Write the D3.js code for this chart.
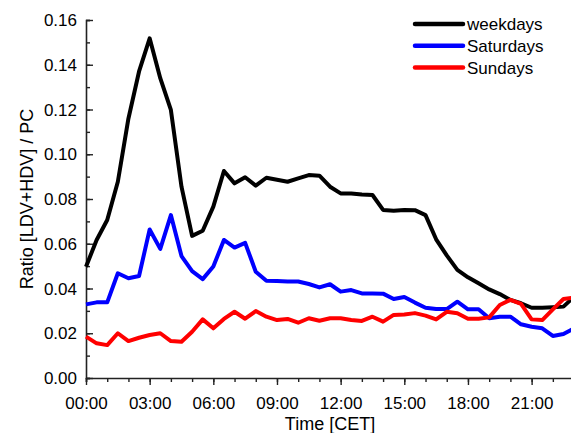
<!DOCTYPE html>
<html>
<head>
<meta charset="utf-8">
<script src="https://cdn.jsdelivr.net/npm/d3@7"></script>
<style>
  body { margin: 0; background: #fff; }
  svg { display: block; font-family: "Liberation Sans", Arial, sans-serif; }
</style>
</head>
<body>
<div id="chart"></div>
<script>
// half-hourly profile, hours after midnight
const hours = [0, 0.5, 1, 1.5, 2, 2.5, 3, 3.5, 4, 4.5, 5, 5.5, 6, 6.5, 7, 7.5,
  8, 8.5, 9, 9.5, 10, 10.5, 11, 11.5, 12, 12.5, 13, 13.5, 14, 14.5, 15, 15.5,
  16, 16.5, 17, 17.5, 18, 18.5, 19, 19.5, 20, 20.5, 21, 21.5, 22, 22.5, 23];

const weekdays = [0.0497, 0.0617, 0.0706, 0.0877, 0.116, 0.137, 0.1518, 0.134,
  0.1198, 0.0855, 0.0635, 0.0658, 0.0766, 0.0925, 0.087, 0.0897,
  0.086, 0.0895, 0.0886, 0.0877, 0.0892, 0.0907, 0.0904, 0.0855,
  0.0825, 0.0825, 0.082, 0.0818, 0.0751, 0.0748, 0.0751, 0.075,
  0.0728, 0.062, 0.0548, 0.0483, 0.045, 0.0423, 0.0396, 0.0375,
  0.0349, 0.0334, 0.0314, 0.0314, 0.0316, 0.0319, 0.0363];

const saturdays = [0.0329, 0.0338, 0.0338, 0.0468, 0.0446, 0.0456, 0.0664, 0.0577,
  0.0728, 0.0545, 0.0478, 0.0442, 0.0498, 0.0617, 0.0583, 0.0604,
  0.0475, 0.0435, 0.0434, 0.0431, 0.0431, 0.042, 0.0405, 0.0419,
  0.0386, 0.0393, 0.0378, 0.0378, 0.0377, 0.0353, 0.0362, 0.0337,
  0.0314, 0.0308, 0.0308, 0.0341, 0.0307, 0.0307, 0.0267, 0.0274,
  0.0274, 0.024, 0.0229, 0.0222, 0.0188, 0.0197, 0.0222];

const sundays = [0.0185, 0.0155, 0.0147, 0.02, 0.0165, 0.018, 0.0192, 0.02,
  0.0165, 0.0162, 0.0207, 0.0262, 0.0222, 0.0264, 0.0296, 0.0265,
  0.0299, 0.0274, 0.0259, 0.0264, 0.0247, 0.0267, 0.0256, 0.0267,
  0.0267, 0.0259, 0.0255, 0.0274, 0.0252, 0.0282, 0.0284, 0.029,
  0.0279, 0.0262, 0.0296, 0.0289, 0.0265, 0.0265, 0.0271, 0.0326,
  0.0349, 0.0331, 0.0262, 0.0259, 0.0307, 0.0353, 0.0359];

const seriesNames = ['weekdays', 'Saturdays', 'Sundays'];
const seriesColors = ['#000000', '#0000ff', '#ff0000'];
const xTickHours = [0, 3, 6, 9, 12, 15, 18, 21];
const yTickValues = [0, 0.02, 0.04, 0.06, 0.08, 0.1, 0.12, 0.14, 0.16];

const width = 571, height = 433;
const margin = { left: 86, top: 20, bottom: 55 };
const fontSize = 17;

const svg = d3.select('#chart').append('svg')
  .attr('width', width)
  .attr('height', height);

// axis is cut by the image edge a bit before midnight
const x = d3.scaleLinear().domain([0, 24]).range([margin.left, margin.left + 24 * 21.22]);
const y = d3.scaleLinear().domain([0, 0.16]).range([height - margin.bottom, margin.top]);

const fmtHour = (h) => String(h).padStart(2, '0') + ':00';

// x axis: ticks point down
const xAxis = svg.append('g')
  .attr('transform', `translate(0,${y(0)})`)
  .call(d3.axisBottom(x).tickValues(d3.range(0, 24)).tickSize(4).tickFormat(''));
xAxis.append('g')
  .call(d3.axisBottom(x).tickValues(xTickHours).tickSize(7).tickFormat(fmtHour))
  .call((g) => g.select('.domain').remove());
xAxis.selectAll('.domain').attr('stroke', '#222').attr('stroke-width', 1.6);
xAxis.selectAll('.tick line').attr('stroke', '#222').attr('stroke-width', 1.4);
xAxis.selectAll('.tick text')
  .attr('fill', '#000')
  .attr('font-size', fontSize)
  .attr('font-family', '"Liberation Sans", Arial, sans-serif')
  .attr('y', 31)
  .attr('dy', 0);

// y axis: ticks point inward
const yAxis = svg.append('g')
  .attr('transform', `translate(${x(0)},0)`)
  .call(d3.axisRight(y).tickValues(d3.range(0, 0.161, 0.01)).tickSize(4).tickFormat(''));
yAxis.append('g')
  .call(d3.axisRight(y).tickValues(yTickValues).tickSize(7).tickFormat(''))
  .call((g) => g.select('.domain').remove());
yAxis.selectAll('.domain').attr('stroke', '#222').attr('stroke-width', 1.6);
yAxis.selectAll('.tick line').attr('stroke', '#222').attr('stroke-width', 1.4);

svg.append('g')
  .selectAll('text')
  .data(yTickValues)
  .join('text')
  .attr('x', x(0) - 9)
  .attr('y', (d) => y(d))
  .attr('dy', '0.36em')
  .attr('text-anchor', 'end')
  .attr('font-size', fontSize)
  .text((d) => d.toFixed(2));

// axis titles
svg.append('text')
  .attr('x', 330)
  .attr('y', 430)
  .attr('text-anchor', 'middle')
  .attr('font-size', 18)
  .text('Time [CET]');

svg.append('text')
  .attr('transform', `translate(33,${(y(0) + y(0.16)) / 2}) rotate(-90)`)
  .attr('text-anchor', 'middle')
  .attr('font-size', 18)
  .text('Ratio [LDV+HDV] / PC');

// lines
const allSeries = [weekdays, saturdays, sundays];
const line = d3.line()
  .x((d, i) => x(hours[i]))
  .y((d) => y(d));

svg.append('g')
  .selectAll('path')
  .data(allSeries)
  .join('path')
  .attr('d', line)
  .attr('fill', 'none')
  .attr('stroke', (d, i) => seriesColors[i])
  .attr('stroke-width', 4)
  .attr('stroke-linejoin', 'round');

// legend
const legend = svg.append('g');
seriesNames.forEach((name, i) => {
  const ly = 24 + i * 21.8;
  legend.append('line')
    .attr('x1', 415).attr('x2', 463)
    .attr('y1', ly).attr('y2', ly)
    .attr('stroke', seriesColors[i])
    .attr('stroke-width', 4.5)
    .attr('stroke-linecap', 'round');
  legend.append('text')
    .attr('x', 467)
    .attr('y', ly)
    .attr('dy', '0.35em')
    .attr('font-size', fontSize)
    .text(name);
});
</script>
</body>
</html>
